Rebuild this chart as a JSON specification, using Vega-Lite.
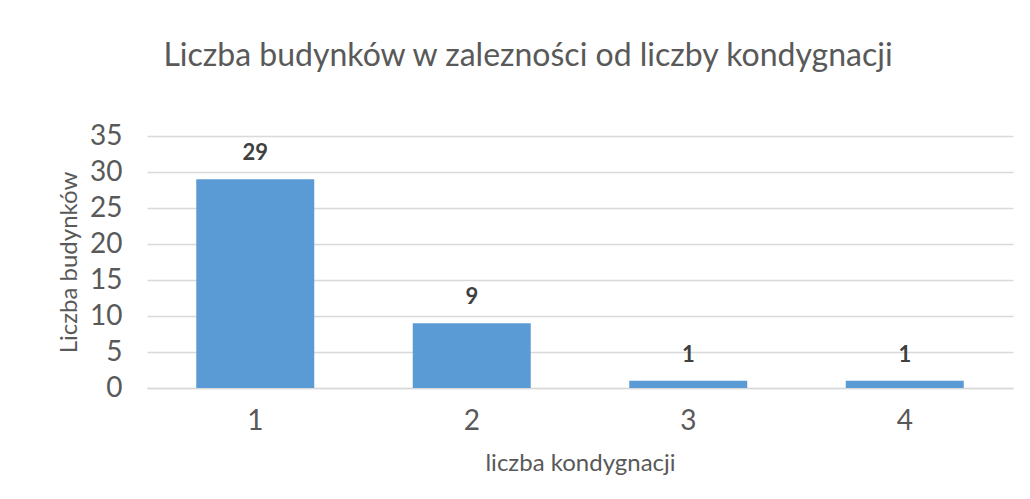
{
  "$schema": "https://vega.github.io/schema/vega-lite/v6.json",
  "width": 866,
  "height": 252,
  "autosize": {"type": "none"},
  "padding": {"left": 147, "top": 136, "right": 17, "bottom": 111},
  "background": "white",
  "title": {
    "text": "Liczba budynków w zalezności od liczby kondygnacji",
    "font": "Lato",
    "fontSize": 32,
    "fontWeight": "normal",
    "color": "#595959",
    "anchor": "middle",
    "dx": -52,
    "offset": 49
  },
  "data": {
    "values": [
      {"kondygnacje": "1", "budynki": 29},
      {"kondygnacje": "2", "budynki": 9},
      {"kondygnacje": "3", "budynki": 1},
      {"kondygnacje": "4", "budynki": 1}
    ]
  },
  "config": {
    "view": {"stroke": null},
    "axis": {"labelFont": "Lato", "titleFont": "Lato", "labelColor": "#595959", "titleColor": "#595959", "titleFontWeight": "normal"}
  },
  "encoding": {
    "x": {
      "field": "kondygnacje",
      "type": "ordinal",
      "scale": {"paddingInner": 0.455, "paddingOuter": 0.2275},
      "axis": {
        "title": "liczba kondygnacji",
        "labelAngle": 0,
        "labelFontSize": 28,
        "labelPadding": 19,
        "ticks": false,
        "domainColor": "#D9D9D9",
        "domainWidth": 1.5,
        "titleFontSize": 24,
        "titlePadding": 16
      }
    },
    "y": {
      "field": "budynki",
      "type": "quantitative",
      "scale": {"domain": [0, 35]},
      "axis": {
        "title": "Liczba budynków",
        "values": [0, 5, 10, 15, 20, 25, 30, 35],
        "labelFontSize": 28,
        "labelPadding": 25,
        "ticks": false,
        "domain": false,
        "gridColor": "#D9D9D9",
        "gridWidth": 1.5,
        "titleFontSize": 24,
        "titlePadding": 8
      }
    }
  },
  "layer": [
    {"mark": {"type": "bar", "color": "#5B9BD5"}},
    {
      "mark": {"type": "text", "baseline": "bottom", "dy": -14, "font": "Lato", "fontSize": 22, "fontWeight": "bold", "color": "#404040"},
      "encoding": {"text": {"field": "budynki", "type": "quantitative"}}
    }
  ]
}
